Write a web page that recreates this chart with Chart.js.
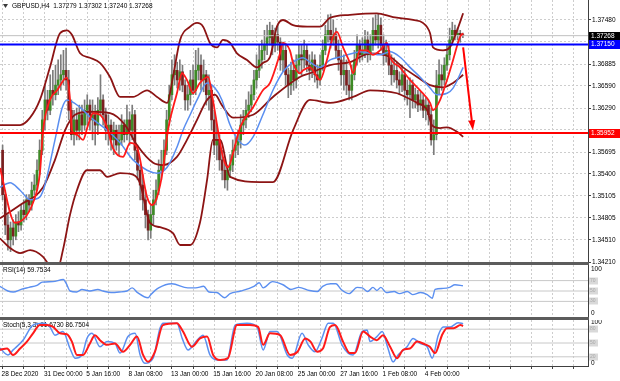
<!DOCTYPE html>
<html>
<head>
<meta charset="utf-8">
<script src="https://cdn.jsdelivr.net/npm/chart.js@4.4.0/dist/chart.umd.min.js"></script>
<style>
  html, body { margin: 0; padding: 0; background: #fff; }
  #wrap { position: relative; width: 620px; height: 381px; overflow: hidden; background: #fff; }
  canvas { position: absolute; left: 0; }
  .sep { position: absolute; left: 0; width: 589px; height: 3px; background: #5c5c5c; }
</style>
</head>
<body>
<div id="wrap">
  <canvas id="main" width="620" height="268" style="top:0"></canvas>
  <canvas id="rsi" width="620" height="52" style="top:265px"></canvas>
  <canvas id="stoch" width="620" height="61" style="top:320px"></canvas>
  <div class="sep" style="top:262px"></div>
  <div class="sep" style="top:317px"></div>
</div>
<script>
// ---- data: GBPUSD H4, bar 1 = 28 Dec 2020 00:00 ----
const open = [
  1.3572, 1.3512, 1.3471, 1.3451, 1.3467, 1.3456, 1.3475, 1.3471, 1.3491, 1.3485,
  1.3505, 1.3498, 1.3518, 1.3525, 1.3545, 1.3572, 1.3613, 1.3640, 1.3626, 1.3653,
  1.3647, 1.3660, 1.3667, 1.3674, 1.3680, 1.3667, 1.3626, 1.3593, 1.3613, 1.3599,
  1.3620, 1.3606, 1.3626, 1.3633, 1.3613, 1.3620, 1.3606, 1.3626, 1.3640, 1.3620,
  1.3599, 1.3606, 1.3586, 1.3599, 1.3579, 1.3586, 1.3606, 1.3593, 1.3613, 1.3599,
  1.3620, 1.3572, 1.3545, 1.3525, 1.3505, 1.3485, 1.3464, 1.3485, 1.3505, 1.3518,
  1.3545, 1.3552, 1.3572, 1.3613, 1.3647, 1.3674, 1.3680, 1.3667, 1.3678, 1.3660,
  1.3640, 1.3647, 1.3667, 1.3653, 1.3680, 1.3687, 1.3667, 1.3674, 1.3647, 1.3653,
  1.3613, 1.3579, 1.3586, 1.3559, 1.3545, 1.3532, 1.3545, 1.3552, 1.3572, 1.3579,
  1.3586, 1.3606, 1.3613, 1.3626, 1.3633, 1.3647, 1.3667, 1.3680, 1.3694, 1.3707,
  1.3714, 1.3724, 1.3734, 1.3714, 1.3728, 1.3718, 1.3694, 1.3707, 1.3674, 1.3660,
  1.3680, 1.3667, 1.3687, 1.3701, 1.3694, 1.3707, 1.3687, 1.3680, 1.3694, 1.3674,
  1.3667, 1.3687, 1.3707, 1.3728, 1.3734, 1.3721, 1.3728, 1.3707, 1.3694, 1.3674,
  1.3680, 1.3660, 1.3653, 1.3674, 1.3694, 1.3714, 1.3701, 1.3707, 1.3721, 1.3701,
  1.3714, 1.3734, 1.3721, 1.3741, 1.3714, 1.3701, 1.3707, 1.3687, 1.3674, 1.3680,
  1.3667, 1.3660, 1.3674, 1.3653, 1.3647, 1.3660, 1.3640, 1.3647, 1.3633, 1.3640,
  1.3626, 1.3633, 1.3620, 1.3586, 1.3593, 1.3660, 1.3674, 1.3667, 1.3687, 1.3701,
  1.3721, 1.3734, 1.3728, 1.3730, 1.37279
];
const high = [
  1.3579, 1.3518, 1.3485, 1.3475, 1.3478, 1.3485, 1.3489, 1.3498, 1.3505, 1.3512,
  1.3512, 1.3529, 1.3539, 1.3559, 1.3586, 1.3626, 1.3660, 1.3653, 1.3674, 1.3680,
  1.3687, 1.3694, 1.3701, 1.3707, 1.3710, 1.3680, 1.3640, 1.3626, 1.3629, 1.3633,
  1.3633, 1.3640, 1.3647, 1.3640, 1.3640, 1.3633, 1.3643, 1.3674, 1.3647, 1.3629,
  1.3620, 1.3613, 1.3610, 1.3606, 1.3606, 1.3620, 1.3613, 1.3633, 1.3624, 1.3633,
  1.3626, 1.3579, 1.3552, 1.3539, 1.3518, 1.3491, 1.3498, 1.3518, 1.3532, 1.3559,
  1.3572, 1.3586, 1.3626, 1.3660, 1.3694, 1.3701, 1.3691, 1.3694, 1.3687, 1.3667,
  1.3660, 1.3680, 1.3687, 1.3707, 1.3710, 1.3701, 1.3694, 1.3680, 1.3674, 1.3660,
  1.3626, 1.3606, 1.3593, 1.3572, 1.3559, 1.3552, 1.3566, 1.3586, 1.3593, 1.3599,
  1.3620, 1.3626, 1.3640, 1.3651, 1.3660, 1.3680, 1.3701, 1.3714, 1.3721, 1.3734,
  1.3741, 1.3745, 1.3741, 1.3737, 1.3741, 1.3724, 1.3718, 1.3714, 1.3683, 1.3691,
  1.3694, 1.3701, 1.3714, 1.3714, 1.3721, 1.3714, 1.3701, 1.3705, 1.3701, 1.3687,
  1.3701, 1.3721, 1.3741, 1.3755, 1.3756, 1.3748, 1.3737, 1.3721, 1.3707, 1.3701,
  1.3694, 1.3680, 1.3687, 1.3707, 1.3728, 1.3721, 1.3724, 1.3734, 1.3732, 1.3728,
  1.3751, 1.3755, 1.3756, 1.3751, 1.3728, 1.3721, 1.3714, 1.3701, 1.3697, 1.3691,
  1.3678, 1.3687, 1.3680, 1.3667, 1.3670, 1.3667, 1.3656, 1.3653, 1.3651, 1.3647,
  1.3643, 1.3640, 1.3629, 1.3613, 1.3680, 1.3694, 1.3687, 1.3697, 1.3714, 1.3737,
  1.3745, 1.3741, 1.3737, 1.3734, 1.37302
];
const low = [
  1.3505, 1.3458, 1.3437, 1.3435, 1.3444, 1.3451, 1.3462, 1.3464, 1.3475, 1.3478,
  1.3489, 1.3491, 1.3512, 1.3518, 1.3539, 1.3566, 1.3599, 1.3613, 1.3620, 1.3633,
  1.3640, 1.3647, 1.3653, 1.3660, 1.3653, 1.3613, 1.3586, 1.3579, 1.3586, 1.3586,
  1.3593, 1.3599, 1.3606, 1.3599, 1.3586, 1.3579, 1.3593, 1.3620, 1.3606, 1.3586,
  1.3579, 1.3572, 1.3566, 1.3572, 1.3566, 1.3579, 1.3583, 1.3586, 1.3579, 1.3586,
  1.3559, 1.3532, 1.3505, 1.3491, 1.3467, 1.3451, 1.3453, 1.3471, 1.3498, 1.3512,
  1.3532, 1.3545, 1.3566, 1.3606, 1.3640, 1.3660, 1.3656, 1.3653, 1.3651, 1.3626,
  1.3626, 1.3633, 1.3647, 1.3647, 1.3667, 1.3653, 1.3651, 1.3633, 1.3626, 1.3599,
  1.3566, 1.3559, 1.3545, 1.3532, 1.3521, 1.3518, 1.3535, 1.3543, 1.3562, 1.3566,
  1.3575, 1.3593, 1.3602, 1.3616, 1.3624, 1.3640, 1.3656, 1.3670, 1.3683, 1.3694,
  1.3701, 1.3714, 1.3701, 1.3705, 1.3707, 1.3680, 1.3678, 1.3660, 1.3643, 1.3647,
  1.3653, 1.3656, 1.3678, 1.3674, 1.3683, 1.3678, 1.3667, 1.3670, 1.3664, 1.3656,
  1.3660, 1.3680, 1.3701, 1.3718, 1.3710, 1.3714, 1.3697, 1.3680, 1.3660, 1.3653,
  1.3647, 1.3640, 1.3640, 1.3667, 1.3687, 1.3691, 1.3694, 1.3697, 1.3691, 1.3694,
  1.3707, 1.3714, 1.3710, 1.3707, 1.3687, 1.3691, 1.3674, 1.3660, 1.3664, 1.3656,
  1.3647, 1.3651, 1.3640, 1.3633, 1.3616, 1.3629, 1.3629, 1.3624, 1.3626, 1.3616,
  1.3613, 1.3606, 1.3579, 1.3566, 1.3586, 1.3647, 1.3653, 1.3660, 1.3680, 1.3694,
  1.3714, 1.3721, 1.3721, 1.3718, 1.37240
];
const close = [
  1.3512, 1.3471, 1.3451, 1.3467, 1.3456, 1.3475, 1.3471, 1.3491, 1.3485, 1.3505,
  1.3498, 1.3518, 1.3525, 1.3545, 1.3572, 1.3613, 1.3640, 1.3626, 1.3653, 1.3647,
  1.3660, 1.3667, 1.3674, 1.3680, 1.3667, 1.3626, 1.3593, 1.3613, 1.3599, 1.3620,
  1.3606, 1.3626, 1.3633, 1.3613, 1.3620, 1.3606, 1.3626, 1.3640, 1.3620, 1.3599,
  1.3606, 1.3586, 1.3599, 1.3579, 1.3586, 1.3606, 1.3593, 1.3613, 1.3599, 1.3620,
  1.3572, 1.3545, 1.3525, 1.3505, 1.3485, 1.3464, 1.3485, 1.3505, 1.3518, 1.3545,
  1.3552, 1.3572, 1.3613, 1.3647, 1.3674, 1.3680, 1.3667, 1.3678, 1.3660, 1.3640,
  1.3647, 1.3667, 1.3653, 1.3680, 1.3687, 1.3667, 1.3674, 1.3647, 1.3653, 1.3613,
  1.3579, 1.3586, 1.3559, 1.3545, 1.3532, 1.3545, 1.3552, 1.3572, 1.3579, 1.3586,
  1.3606, 1.3613, 1.3626, 1.3633, 1.3647, 1.3667, 1.3680, 1.3694, 1.3707, 1.3714,
  1.3724, 1.3734, 1.3714, 1.3728, 1.3718, 1.3694, 1.3707, 1.3674, 1.3660, 1.3680,
  1.3667, 1.3687, 1.3701, 1.3694, 1.3707, 1.3687, 1.3680, 1.3694, 1.3674, 1.3667,
  1.3687, 1.3707, 1.3728, 1.3734, 1.3721, 1.3728, 1.3707, 1.3694, 1.3674, 1.3680,
  1.3660, 1.3653, 1.3674, 1.3694, 1.3714, 1.3701, 1.3707, 1.3721, 1.3701, 1.3714,
  1.3734, 1.3721, 1.3741, 1.3714, 1.3701, 1.3707, 1.3687, 1.3674, 1.3680, 1.3667,
  1.3660, 1.3674, 1.3653, 1.3647, 1.3660, 1.3640, 1.3647, 1.3633, 1.3640, 1.3626,
  1.3633, 1.3620, 1.3586, 1.3593, 1.3660, 1.3674, 1.3667, 1.3687, 1.3701, 1.3721,
  1.3734, 1.3728, 1.3730, 1.37279, 1.37268
];

// indicator lines: [bar, value]
const bbUpper = [[0,1.3606],[7.6,1.3606],[11.4,1.3616],[15.1,1.3640],[18.9,1.3684],[22.7,1.3730],[25.3,1.3734],[27.2,1.3728],[30.3,1.3703],[34,1.3697],[37.8,1.3690],[41.6,1.3671],[45.4,1.3644],[50.3,1.3644],[55.6,1.3653],[59.4,1.3644],[63.2,1.3636],[65.4,1.3671],[68.1,1.3721],[71.9,1.3739],[74.5,1.3744],[76.8,1.3739],[79.4,1.3717],[82.1,1.3711],[84.3,1.3721],[87,1.3717],[89.6,1.3703],[93.4,1.3694],[97.2,1.3684],[99.4,1.3690],[102.1,1.3698],[104.7,1.3739],[107,1.3748],[110.8,1.3741],[116.1,1.3739],[121,1.3739],[124.8,1.3751],[132.3,1.3755],[142.5,1.3757],[148.6,1.3752],[156.2,1.3748],[159.9,1.3744],[162.6,1.3730],[163.7,1.3711],[167.5,1.3707],[170.1,1.3711],[172.8,1.3734],[175.1,1.3757]];
const bbMiddle = [[0,1.3480],[7.6,1.3498],[16.3,1.3522],[20.8,1.3559],[24.6,1.3599],[28.4,1.3620],[34,1.3624],[41.6,1.3622],[47.3,1.3606],[51.8,1.3579],[57.9,1.3555],[61.6,1.3552],[66.9,1.3563],[70.7,1.3586],[74.5,1.3613],[78.3,1.3640],[81.3,1.3647],[83.9,1.3633],[88.1,1.3616],[95.7,1.3620],[103.2,1.3644],[113.4,1.3671],[117.2,1.3676],[124.8,1.3687],[132.3,1.3691],[139.9,1.3703],[147.5,1.3698],[152.4,1.3684],[157.7,1.3671],[162.6,1.3660],[167.5,1.3657],[171.3,1.3663],[175.1,1.3674]];
const bbLower = [[0,1.3453],[3.8,1.3440],[7.6,1.3433],[11.4,1.3437],[16.3,1.3428],[18.9,1.3416],[21.9,1.3413],[23.8,1.3437],[26.5,1.3485],[29.1,1.3518],[32.9,1.3545],[37.8,1.3545],[40.5,1.3536],[45.4,1.3541],[50.3,1.3539],[52.9,1.3528],[56.7,1.3474],[60.5,1.3468],[65.4,1.3460],[68.1,1.3444],[71.9,1.3444],[75.6,1.3474],[78.3,1.3532],[80.5,1.3586],[83.2,1.3586],[87,1.3536],[98.3,1.3529],[103.2,1.3529],[110.8,1.3599],[117.2,1.3640],[124.8,1.3636],[133.5,1.3644],[139.9,1.3653],[150.1,1.3649],[153.9,1.3643],[157.7,1.3636],[161.5,1.3626],[163.3,1.3606],[166.4,1.3602],[169,1.3603],[172.8,1.3597],[175.1,1.3590]];
const maFast = [[0,1.3548],[5.7,1.3474],[12.5,1.3501],[15.1,1.3541],[16.3,1.3599],[18.9,1.3640],[21.6,1.3653],[25.3,1.3670],[26.5,1.3640],[27.2,1.3599],[29.1,1.3593],[31.4,1.3586],[33.3,1.3606],[35.2,1.3622],[37.8,1.3620],[40.5,1.3603],[42.7,1.3575],[46.5,1.3563],[49.2,1.3582],[51.8,1.3576],[55.6,1.3509],[57.5,1.3498],[59.4,1.3509],[61.6,1.3545],[63.5,1.3599],[66.9,1.3649],[68.8,1.3676],[70.7,1.3667],[73,1.3649],[75.6,1.3663],[78.7,1.3671],[80.5,1.3640],[82.4,1.3599],[84.3,1.3563],[86.2,1.3549],[88.1,1.3568],[90.8,1.3603],[95.7,1.3630],[99.4,1.3653],[102.1,1.3663],[105.9,1.3703],[107,1.3717],[109.6,1.3707],[110.8,1.3690],[113.4,1.3676],[114.6,1.3680],[117.2,1.3684],[119.9,1.3671],[121,1.3667],[123.6,1.3694],[125.9,1.3725],[127.4,1.3732],[129.7,1.3711],[132.3,1.3690],[133.5,1.3676],[136.1,1.3707],[138.8,1.3707],[141,1.3701],[143.7,1.3707],[146.3,1.3717],[147.5,1.3698],[151.2,1.3684],[155,1.3667],[158.8,1.3653],[162.6,1.3636],[163.7,1.3626],[166.4,1.3640],[169,1.3667],[171.3,1.3694],[173.9,1.3725],[175.1,1.3730]];
const maSlow = [[0,1.3522],[3.8,1.3528],[7.6,1.3518],[11.4,1.3505],[15.1,1.3509],[17,1.3525],[20.8,1.3586],[23.5,1.3629],[25.3,1.3640],[30.3,1.3630],[34,1.3617],[40.5,1.3599],[45.4,1.3582],[50.3,1.3559],[55.6,1.3545],[59.4,1.3541],[63.2,1.3549],[66.9,1.3576],[69.2,1.3599],[71.9,1.3620],[74.5,1.3640],[78.3,1.3663],[81.3,1.3656],[83.9,1.3640],[87,1.3606],[90,1.3586],[92.6,1.3579],[95.7,1.3590],[99.4,1.3620],[103.2,1.3653],[107,1.3678],[110.8,1.3691],[114.6,1.3697],[117.2,1.3691],[121,1.3684],[124.8,1.3694],[128.6,1.3698],[133.5,1.3703],[136.1,1.3705],[139.9,1.3703],[143.7,1.3701],[147.5,1.3705],[151.2,1.3698],[155,1.3684],[158.8,1.3671],[162.6,1.3656],[165.2,1.3647],[169,1.3649],[171.3,1.3656],[175.1,1.3684]];

const rsiLine = [[0,59],[3,50],[5,48],[8,53],[11,57],[14,61],[16,67],[20,68],[24,72],[25,65],[26.5,50],[29,48],[31,53],[34,50],[37,53],[39,50],[42,47],[45,48],[48,50],[50,56],[52,47],[56,37],[57,43],[60,56],[65,64],[71,56],[74,56],[77,59],[79,48],[82,47],[85,37],[87,45],[91,50],[96,59],[98,66],[99.5,56],[103,68],[107,62],[110,53],[113,57],[117,51],[120,49],[122,59],[125,64],[127,64],[129,53],[132,45],[135,57],[137,56],[139,49],[141,57],[142.5,51],[144,57],[146,47],[149,49],[151,45],[154,49],[156,43],[159,47],[161.5,43],[163.4,36],[164.5,53],[167.5,55],[170,57],[172,62],[175,60]];
const stochK = [[0,39],[3,24],[5,35],[8.7,56],[12.5,89],[16.3,93],[18.9,85],[20.8,67],[23.8,75],[26.5,38],[28.4,17],[31,24],[32.9,60],[34.8,71],[37.8,42],[40.5,53],[43.5,49],[45.4,28],[48.4,64],[51.1,71],[53,24],[54.8,6],[57.9,17],[60.5,82],[61.7,93],[66.9,93],[68.9,60],[71.1,35],[74.5,56],[76.8,67],[79.4,24],[82.1,13],[85.8,13],[88.9,89],[93.4,93],[97.2,85],[99.5,35],[102.1,75],[104.8,75],[108.6,24],[110.5,17],[114.2,71],[116.5,46],[119.1,31],[121.7,60],[124.1,93],[126,93],[129.3,46],[131.6,28],[133.5,24],[136.9,75],[138.8,78],[139.9,53],[142.5,64],[144.5,75],[146.7,38],[148.6,9],[150.5,24],[153.9,42],[156.2,60],[158.8,49],[161.5,42],[163.4,17],[165.7,67],[167.6,85],[170.2,85],[173.2,94],[175.1,92]];
const stochD = [[0,35],[2.7,38],[4.9,24],[7.6,38],[10.2,53],[12.5,71],[15.1,89],[17.8,89],[20.1,85],[22.7,71],[25.3,69],[27.2,53],[29.1,24],[31.4,24],[34,49],[35.9,67],[37.8,56],[40.5,46],[43.5,49],[46.5,31],[49.2,46],[51.8,64],[54.1,24],[56,9],[58.6,31],[61.6,89],[66.9,93],[69.2,75],[72.6,42],[75.6,60],[78.3,64],[80.6,24],[83.2,13],[86.2,17],[89.6,89],[94.5,89],[97.6,85],[99.5,46],[102.1,71],[105.9,67],[109.7,24],[112.5,31],[115.4,60],[117.4,53],[119.9,31],[122.1,38],[124.8,85],[126.7,89],[129.7,53],[132.3,28],[134.2,28],[137.3,75],[139.9,64],[142.5,56],[144.8,67],[147.5,42],[150.1,17],[152.4,35],[155,38],[157.7,53],[160.7,47],[162.5,42],[164.5,28],[167.1,67],[169,82],[171.5,82],[174.1,89],[175.1,87]];

const priceTicks = [1.37480, 1.37185, 1.36885, 1.36590, 1.36290, 1.35995, 1.35695, 1.35400, 1.35105, 1.34805, 1.34510, 1.34210];
const hiddenTicks = [1.37185, 1.35995]; // sit under the price tags
const dateBars = [1, 17, 33, 49, 65, 81, 97, 113, 129, 145, 161];
const dateLabels = ['28 Dec 2020', '31 Dec 00:00', '5 Jan 16:00', '8 Jan 08:00', '13 Jan 00:00', '15 Jan 16:00', '20 Jan 08:00', '25 Jan 00:00', '27 Jan 16:00', '1 Feb 08:00', '4 Feb 00:00'];
const levelBlue = 1.37150;
const levelRed = 1.35952;
const rsiLevels = [70, 50, 30];
const stochLevels = [80, 50, 20];
const arrowBars = [175.1, 178.8];
const arrowPrices = [1.3711, 1.3599];

// ---- setup ----
const FONT = '"Liberation Sans", Arial, sans-serif';
Chart.defaults.font.family = FONT;
Chart.defaults.font.size = 6.5;
Chart.defaults.color = '#000';
Chart.defaults.animation = false;
Chart.defaults.responsive = false;
Chart.defaults.devicePixelRatio = 1;
Chart.defaults.plugins.legend.display = false;
Chart.defaults.plugins.tooltip.enabled = false;

const X_MIN = 0.017, X_MAX = 222.3;
const gridBars = [];
for (let b = 1; b <= 217; b += 8) gridBars.push(b);
const barNo = close.map((_, i) => i + 1);
const last = close.length - 1;

function xScale(showLabels) {
  return {
    type: 'linear', min: X_MIN, max: X_MAX, offset: false,
    afterBuildTicks: s => { s.ticks = gridBars.map(v => ({ value: v })); },
    grid: { color: '#cdcdcd', offset: false, drawTicks: showLabels, tickLength: 3, tickColor: '#404040' },
    border: { display: showLabels, color: '#404040', dash: [2, 2] },
    ticks: {
      display: showLabels, autoSkip: false, maxRotation: 0, align: 'start', padding: 1, labelOffset: -1,
      callback: v => { const k = dateBars.indexOf(v); return k < 0 ? '' : dateLabels[k]; }
    },
    afterFit: s => { s.height = showLabels ? 15 : 0; s.paddingLeft = 0; s.paddingRight = 0; }
  };
}

function line(points, color, width, order, extra) {
  return Object.assign({
    type: 'line', data: points.map(p => ({ x: p[0], y: p[1] })),
    borderColor: color, borderWidth: width, pointRadius: 0, fill: false,
    cubicInterpolationMode: 'monotone', order
  }, extra || {});
}
function hline(v, color, width, order) {
  return line([[X_MIN, v], [X_MAX, v]], color, width, order, { cubicInterpolationMode: 'default', tension: 0 });
}

const title = 'GBPUSD,H4  ' + [open[last], high[last], low[last], close[last]].map(v => v.toFixed(5)).join(' ');
const priceBoxes = [[close[last], '#000000'], [levelBlue, '#0000ff'], [levelRed, '#ff0000']];

const mainOverlay = {
  id: 'mainOverlay',
  afterDraw(chart) {
    const { ctx, scales: { x, y } } = chart;
    ctx.save();
    ctx.font = '6.5px ' + FONT;
    ctx.textBaseline = 'middle';
    ctx.fillStyle = '#3a3a3a';
    ctx.beginPath(); ctx.moveTo(3, 4); ctx.lineTo(8, 4); ctx.lineTo(5.5, 8); ctx.closePath(); ctx.fill();
    ctx.fillStyle = '#000';
    ctx.fillText(title, 12, 6.5);

    // red arrow
    const x0 = x.getPixelForValue(arrowBars[0]), y0 = y.getPixelForValue(arrowPrices[0]);
    const x1 = x.getPixelForValue(arrowBars[1]), y1 = y.getPixelForValue(arrowPrices[1]);
    const a = Math.atan2(y1 - y0, x1 - x0);
    ctx.strokeStyle = '#ff0000'; ctx.fillStyle = '#ff0000'; ctx.lineWidth = 2;
    ctx.beginPath(); ctx.moveTo(x0, y0); ctx.lineTo(x1 - 5 * Math.cos(a), y1 - 5 * Math.sin(a)); ctx.stroke();
    ctx.beginPath();
    ctx.moveTo(x1, y1);
    ctx.lineTo(x1 - 10 * Math.cos(a) + 3.5 * Math.sin(a), y1 - 10 * Math.sin(a) - 3.5 * Math.cos(a));
    ctx.lineTo(x1 - 10 * Math.cos(a) - 3.5 * Math.sin(a), y1 - 10 * Math.sin(a) + 3.5 * Math.cos(a));
    ctx.closePath(); ctx.fill();

    // price tags on the axis
    priceBoxes.forEach(([v, bg]) => {
      const py = Math.round(y.getPixelForValue(v));
      ctx.fillStyle = bg; ctx.fillRect(589, py - 4, 31, 9);
      ctx.fillStyle = '#fff'; ctx.fillText(v.toFixed(5), 591, py + 0.5);
    });
    ctx.restore();
  }
};

function panelOverlay(name, levels, topOff, botOff) {
  return {
    id: 'panelOverlay',
    beforeDatasetsDraw(chart) {
      const { ctx, chartArea } = chart;
      ctx.save();
      ctx.font = '6.5px ' + FONT; ctx.textBaseline = 'middle'; ctx.fillStyle = '#000';
      ctx.fillText(name, 3, chartArea.top + 5.5);
      ctx.restore();
    },
    afterDraw(chart) {
      const { ctx, chartArea, scales: { y } } = chart;
      ctx.save();
      ctx.textBaseline = 'middle';
      levels.forEach(v => {
        const py = Math.round(y.getPixelForValue(v));
        ctx.fillStyle = '#d9d9d9'; ctx.fillRect(589, py - 3.5, 9, 7);
        ctx.fillStyle = '#a8a8a8'; ctx.font = '5px ' + FONT; ctx.fillText(String(v), 590, py);
      });
      ctx.font = '6.5px ' + FONT; ctx.fillStyle = '#000';
      ctx.fillText('100', 591, chartArea.top + topOff);
      ctx.fillText('0', 591, chartArea.bottom - botOff);
      ctx.restore();
    }
  };
}

function panelY() {
  return {
    position: 'right', min: 0, max: 100,
    ticks: { display: false }, grid: { display: false },
    border: { display: true, color: '#404040' },
    afterFit: s => { s.width = 32; s.paddingTop = 0; s.paddingBottom = 0; }
  };
}

// ---- price chart ----
new Chart(document.getElementById('main'), {
  type: 'bar',
  data: {
    datasets: [
      {
        type: 'bar', order: 10, grouped: false, barThickness: 1,
        data: barNo.map((b, i) => ({ x: b, y: [low[i], high[i]] })),
        backgroundColor: '#7c7c7c'
      },
      {
        type: 'bar', order: 9, grouped: false, barThickness: 2, minBarLength: 1,
        data: barNo.map((b, i) => ({ x: b, y: [open[i], close[i]] })),
        backgroundColor: barNo.map((b, i) => close[i] >= open[i] ? '#3d8a26' : '#7a1f1f')
      },
      hline(close[last], '#c0c0c0', 1, 8),
      line(bbUpper, '#8c1414', 1.8, 6),
      line(bbMiddle, '#8c1414', 1.8, 6),
      line(bbLower, '#8c1414', 1.8, 6),
      line(maSlow, '#5a8ef0', 1.5, 4),
      line(maFast, '#ff1a1a', 1.8, 3),
      hline(levelBlue, '#0000ff', 2, 1),
      hline(levelRed, '#ff0000', 2, 1)
    ]
  },
  options: {
    layout: { padding: { top: 0, left: 0, right: 0, bottom: 6 } },
    scales: {
      x: xScale(false),
      y: {
        position: 'right', min: 1.3421, max: 1.3775,
        afterBuildTicks: s => { s.ticks = priceTicks.map(v => ({ value: v })); },
        grid: { color: '#cdcdcd', tickLength: 3, tickColor: '#404040' },
        border: { display: true, color: '#404040', dash: [2, 2] },
        ticks: { padding: 1, callback: v => hiddenTicks.includes(v) ? '' : v.toFixed(5) },
        afterFit: s => { s.width = 32; s.paddingTop = 0; s.paddingBottom = 0; }
      }
    }
  },
  plugins: [mainOverlay]
});

// ---- RSI ----
new Chart(document.getElementById('rsi'), {
  type: 'line',
  data: {
    datasets: [
      ...rsiLevels.map(v => hline(v, '#c8c8c8', 1, 5)),
      line(rsiLine, '#5b8ff0', 1.4, 1)
    ]
  },
  options: {
    layout: { padding: 0 },
    scales: { x: xScale(false), y: panelY() }
  },
  plugins: [panelOverlay('RSI(14) 59.7534', rsiLevels, 4, 4)]
});

// ---- Stochastic ----
new Chart(document.getElementById('stoch'), {
  type: 'line',
  data: {
    datasets: [
      ...stochLevels.map(v => hline(v, '#c8c8c8', 1, 5)),
      line(stochK, '#5b8ff0', 1.5, 2),
      line(stochD, '#ff1a1a', 2, 1)
    ]
  },
  options: {
    layout: { padding: 0 },
    scales: { x: xScale(true), y: panelY() }
  },
  plugins: [panelOverlay('Stoch(5,3,3) 91.6730 86.7504', stochLevels, 2, 3)]
});
</script>
</body>
</html>
